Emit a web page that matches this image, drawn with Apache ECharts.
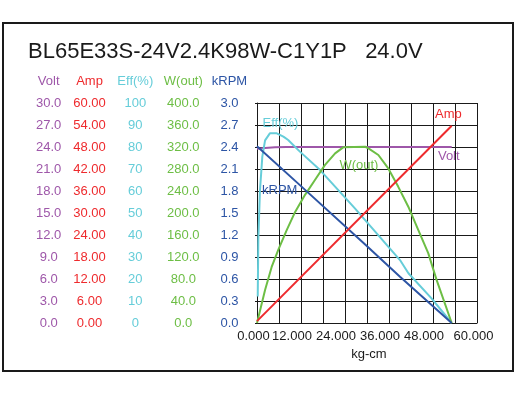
<!DOCTYPE html>
<html>
<head>
<meta charset="utf-8">
<script src="https://cdn.jsdelivr.net/npm/echarts@6/dist/echarts.min.js"></script>
<style>
html,body{margin:0;padding:0;background:#fff;}
#c{width:516px;height:399px;}
</style>
</head>
<body>
<div id="c"></div>
<script>
// ---- data ----
const titleText = 'BL65E33S-24V2.4K98W-C1Y1P   24.0V';
const xName = 'kg-cm';
const axisNames = ['Volt', 'Amp', 'Eff(%)', 'W(out)', 'kRPM'];
const axisMax = [30, 60, 100, 400, 3];
const axisDecimals = [1, 2, 0, 1, 1];
const xTickLabels = [0, 12, 24, 36, 48, 60];

const voltData = [[0, 23.75], [2.2, 23.85], [4.9, 23.96], [8.0, 24.0], [53.1, 24.0]];
const ampData = [[0, 0.5], [53.1, 53.8]];
const effData = [[0.2, 12], [0.36, 38], [0.8, 60], [1.45, 75.6], [2.2, 83], [3.5, 86.2], [5.4, 86.2],
  [7.2, 84.7], [8.5, 83.2], [11.7, 77.9], [17.2, 69.5], [26.7, 52.1], [39.0, 28.6],
  [41.3, 22.6], [47.6, 11.2], [53.1, 0]];
const wattData = [[0, 0], [2.2, 60], [4.0, 102], [5.8, 133], [8.1, 169], [10.4, 202], [13.1, 233],
  [15.8, 260], [18.5, 287], [21.3, 308.5], [23.5, 319.4], [29.5, 320.5], [30.4, 317.6],
  [33.1, 305.5], [35.8, 281], [38.5, 248], [41.3, 211], [44.0, 169], [46.7, 127], [49.0, 78], [53.1, 0]];
const rpmData = [[0, 2.41], [11.7, 1.88], [29.5, 1.07], [39.0, 0.63], [53.1, 0]];

// label anchors (data space)
const seriesLabelPos = {
  Volt: [52.3, 22.7],
  Amp: [52.2, 56.9],
  'Eff(%)': [6.4, 90.7],
  'W(out)': [27.8, 287],
  kRPM: [6.2, 1.81]
};

// ---- styles ----
const colors = ['#9E57A9', '#EE2A2D', '#66CDD9', '#6DBE45', '#2D55A5'];
const columnCenters = [48.7, 89.5, 135.3, 183.3, 229.5];
const gridLeft = 257, gridTop = 103, gridW = 220, gridH = 220;
const fontFam = '"Liberation Sans", Arial, sans-serif';

// frame axis carrying grid lines (index 0)
const yAxes = [{
  type: 'value', position: 'left', offset: 0, min: 0, max: 10, interval: 1,
  axisLine: { show: true, lineStyle: { color: '#1a1a1a', width: 1 } },
  axisTick: { show: true, length: 2, lineStyle: { color: '#1a1a1a' } },
  axisLabel: { show: false },
  splitLine: { show: true, lineStyle: { color: '#1a1a1a', width: 1 } }
}];
axisNames.forEach((n, i) => yAxes.push({
  type: 'value',
  position: 'left',
  offset: gridLeft - columnCenters[i],
  min: 0,
  max: axisMax[i],
  interval: axisMax[i] / 10,
  name: n,
  nameLocation: 'end',
  nameGap: 22,
  nameMoveOverlap: false,
  nameTextStyle: { color: colors[i], fontSize: 13, fontFamily: fontFam, align: 'center', verticalAlign: 'middle' },
  axisLine: { show: false },
  axisTick: { show: false },
  splitLine: { show: false },
  axisLabel: {
    color: colors[i], fontSize: 13, fontFamily: fontFam, margin: 0, align: 'center',
    formatter: v => Number(v).toFixed(axisDecimals[i])
  }
}));

const seriesData = [voltData, ampData, effData, wattData, rpmData];
const order = [0, 2, 3, 4, 1];
const series = order.map(i => ({
  type: 'line',
  name: axisNames[i],
  yAxisIndex: i + 1,
  data: seriesData[i],
  showSymbol: false,
  symbol: 'none',
  smooth: false,
  lineStyle: { color: colors[i], width: 2 },
  itemStyle: { color: colors[i] },
  markPoint: {
    symbol: 'circle', symbolSize: 0, silent: true, animation: false,
    data: [{ coord: seriesLabelPos[axisNames[i]] }],
    label: { show: true, position: 'inside', formatter: axisNames[i], color: colors[i], fontSize: 13, fontFamily: fontFam }
  }
}));

const chart = echarts.init(document.getElementById('c'), null, { renderer: 'canvas' });
chart.setOption({
  animation: false,
  backgroundColor: '#fff',
  title: {
    text: titleText, left: 23, top: 36,
    textStyle: { fontSize: 22, fontWeight: 'normal', color: '#1a1a1a', fontFamily: fontFam }
  },
  graphic: [{
    type: 'rect', shape: { x: 3, y: 23, width: 510, height: 348 },
    style: { fill: 'none', stroke: '#1a1a1a', lineWidth: 2 }, silent: true
  }],
  grid: { left: gridLeft, top: gridTop, width: gridW, height: gridH, containLabel: false },
  xAxis: {
    type: 'value', min: 0, max: 60, interval: 6,
    name: xName, nameLocation: 'middle', nameGap: 22,
    nameTextStyle: { color: '#1a1a1a', fontSize: 13, fontFamily: fontFam, verticalAlign: 'top', padding: [0, 0, 0, 4] },
    axisLine: { show: true, lineStyle: { color: '#1a1a1a', width: 1 } },
    axisTick: { show: false },
    splitLine: { show: true, lineStyle: { color: '#1a1a1a', width: 1 } },
    axisLabel: {
      color: '#1a1a1a', fontSize: 13, fontFamily: fontFam, margin: 7,
      formatter: v => {
        if (!xTickLabels.includes(v)) return '';
        const s = v.toFixed(3);
        return (v === 0 || v === 60) ? '{e|' + s + '}' : '{m|' + s + '}';
      },
      rich: {
        e: { padding: [0, 7, 0, 0], color: '#1a1a1a', fontSize: 13, fontFamily: fontFam },
        m: { padding: [0, 18, 0, 0], color: '#1a1a1a', fontSize: 13, fontFamily: fontFam }
      }
    }
  },
  yAxis: yAxes,
  series: series
});
</script>
</body>
</html>
